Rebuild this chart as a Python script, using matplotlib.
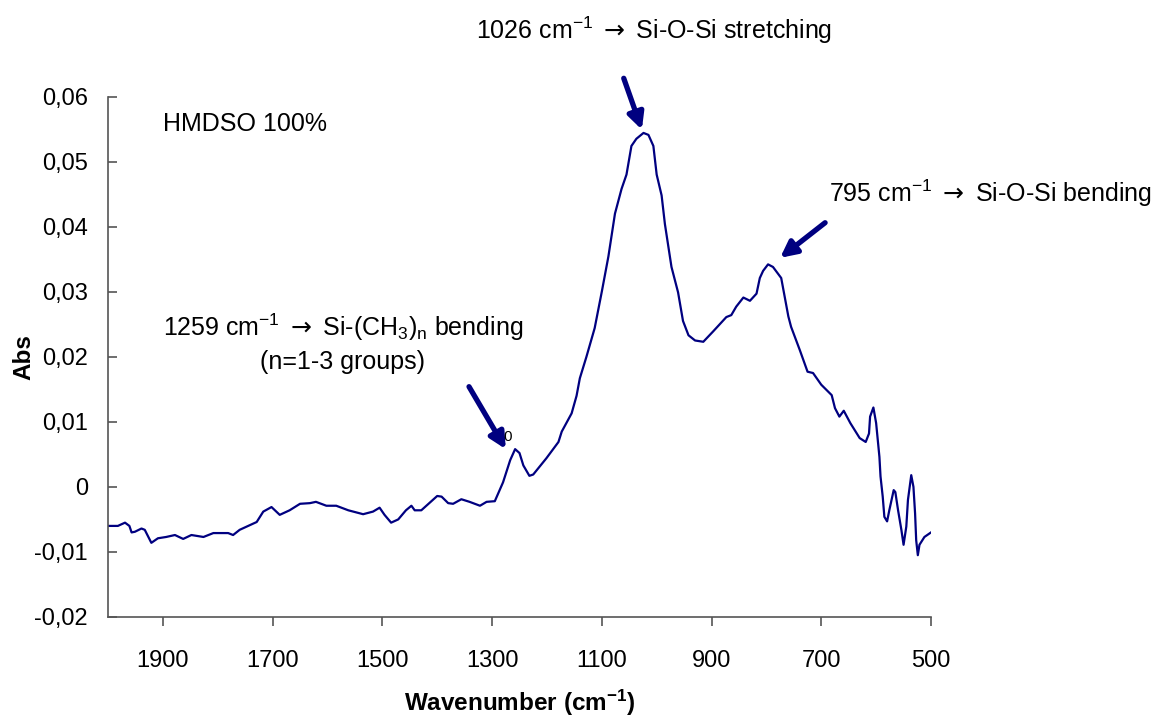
import numpy as np
import matplotlib
matplotlib.use("Agg")
import matplotlib.pyplot as plt

# FTIR spectrum
wavenumber = [2000, 1982, 1969, 1961, 1957, 1951, 1939, 1933, 1921, 1909, 1894, 1878,
              1863, 1848, 1826, 1808, 1781, 1772, 1760, 1729, 1717, 1702, 1687, 1669,
              1650, 1632, 1621, 1602, 1584, 1562, 1535, 1517, 1505, 1496, 1484, 1471,
              1457, 1447, 1441, 1429, 1400, 1392, 1380, 1371, 1356, 1341, 1322, 1310,
              1295, 1280, 1267, 1258, 1250, 1243, 1232, 1225, 1201, 1179, 1173, 1155,
              1146, 1140, 1128, 1113, 1100, 1088, 1076, 1064, 1055, 1046, 1037, 1024,
              1015, 1006, 1000, 991, 985, 973, 961, 952, 942, 930, 915, 897,
              873, 864, 855, 842, 830, 818, 812, 806, 797, 788, 773, 767,
              760, 755, 739, 725, 715, 700, 681, 675, 667, 659, 647, 630,
              619, 613, 611, 605, 600, 594, 592, 588, 585, 580, 576, 568,
              565, 560, 554, 550, 545, 542, 536, 532, 529, 527, 524, 521,
              512, 500]
absorbance = [-0.0060, -0.0060, -0.0055, -0.0060, -0.0070, -0.0069, -0.0064, -0.0066, -0.0086, -0.0079, -0.0077, -0.0074,
              -0.0080, -0.0074, -0.0077, -0.0071, -0.0071, -0.0074, -0.0066, -0.0054, -0.0038, -0.0031, -0.0043, -0.0036,
              -0.0026, -0.0025, -0.0023, -0.0029, -0.0029, -0.0036, -0.0042, -0.0038, -0.0032, -0.0043, -0.0055, -0.0050,
              -0.0036, -0.0029, -0.0036, -0.0036, -0.0014, -0.0015, -0.0025, -0.0026, -0.0019, -0.0023, -0.0029, -0.0023,
              -0.0022, 0.0007, 0.0041, 0.0058, 0.0052, 0.0033, 0.0017, 0.0019, 0.0044, 0.0069, 0.0085, 0.0113,
              0.0140, 0.0167, 0.0200, 0.0244, 0.0300, 0.0354, 0.0420, 0.0458, 0.0480, 0.0524, 0.0535, 0.0544,
              0.0541, 0.0524, 0.0480, 0.0448, 0.0404, 0.0338, 0.0299, 0.0255, 0.0233, 0.0225, 0.0223, 0.0239,
              0.0261, 0.0264, 0.0277, 0.0291, 0.0286, 0.0297, 0.0321, 0.0332, 0.0342, 0.0338, 0.0321, 0.0294,
              0.0262, 0.0246, 0.0210, 0.0177, 0.0175, 0.0157, 0.0141, 0.0121, 0.0108, 0.0117, 0.0098, 0.0075,
              0.0069, 0.0082, 0.0108, 0.0122, 0.0098, 0.0046, 0.0016, -0.0015, -0.0046, -0.0053, -0.0036, -0.0005,
              -0.0008, -0.0036, -0.0066, -0.0089, -0.0061, -0.0020, 0.0018, 0.0000, -0.0041, -0.0082, -0.0105, -0.0089,
              -0.0077, -0.0070]

x_ticks = [1900, 1700, 1500, 1300, 1100, 900, 700, 500]
y_ticks = [-0.02, -0.01, 0, 0.01, 0.02, 0.03, 0.04, 0.05, 0.06]
y_labels = ["-0,02", "-0,01", "0", "0,01", "0,02", "0,03", "0,04", "0,05", "0,06"]

# (text, arrow start, arrow tip) in data coordinates
peaks = [
    ("1259", (1342, 0.0154), (1275, 0.0058)),
    ("1026", (1060, 0.0628), (1027, 0.0549)),
    ("795", (693, 0.0406), (775, 0.0352)),
]

plt.rcParams["font.family"] = ["Liberation Sans", "DejaVu Sans"]
plt.rcParams["mathtext.fontset"] = "custom"
plt.rcParams["mathtext.rm"] = "Liberation Sans"
plt.rcParams["mathtext.it"] = "Liberation Sans"
plt.rcParams["mathtext.bf"] = "Liberation Sans:bold"
plt.rcParams["mathtext.sf"] = "DejaVu Sans"
plt.rcParams["mathtext.default"] = "regular"

navy = "#000080"
W, H = 1165, 720
fig = plt.figure(figsize=(W / 100, H / 100), dpi=100)
ax = fig.add_axes([108 / W, 1 - 617 / H, (931 - 108) / W, (617 - 96.5) / H])

ax.plot(wavenumber, absorbance, color=navy, lw=1.6)
ax.set_xlim(2000, 500)
ax.set_ylim(-0.02, 0.06)
ax.set_xticks(x_ticks)
ax.set_yticks(y_ticks)
ax.set_yticklabels(y_labels)

for s in ["top", "right"]:
    ax.spines[s].set_visible(False)
for s in ["left", "bottom"]:
    ax.spines[s].set_color("#555555")
    ax.spines[s].set_linewidth(1.2)
ax.tick_params(axis="x", direction="out", length=6.5, width=1.2, color="#555555",
               labelsize=17, pad=17)
ax.tick_params(axis="y", direction="in", length=6.5, width=1.2, color="#555555",
               labelsize=17, pad=14.5)

ax.set_xlabel(r"Wavenumber (cm$^{\mathbf{-1}}$)", fontsize=17.5, fontweight="bold", va="center")
ax.xaxis.set_label_coords(0.5, -(703 - 617) / (617 - 96.5))
ax.set_ylabel("Abs", fontsize=17.5, fontweight="bold", va="center")
ax.yaxis.set_label_coords(-(108 - 24) / (931 - 108), 0.5)

for _, start, tip in peaks:
    ax.annotate("", xy=tip, xytext=start,
                arrowprops=dict(arrowstyle="-|>", color=navy, lw=3.8, mutation_scale=24,
                                shrinkA=0, shrinkB=0))

fs = 18
arr = r"$\mathsf{\rightarrow}$"
fig.text(654 / W, 1 - 30 / H, r"1026 cm$^{-1}$ " + arr + " Si-O-Si stretching", fontsize=fs,
         ha="center", va="center")
fig.text(990 / W, 1 - 193 / H, r"795 cm$^{-1}$ " + arr + " Si-O-Si bending", fontsize=fs,
         ha="center", va="center")
fig.text(343 / W, 1 - 327 / H, r"1259 cm$^{-1}$ " + arr + r" Si-(CH$_3$)$_n$ bending", fontsize=fs,
         ha="center", va="center")
fig.text(342 / W, 1 - 362 / H, "(n=1-3 groups)", fontsize=fs, ha="center", va="center")
fig.text(163 / W, 1 - 124 / H, "HMDSO 100%", fontsize=fs, ha="left", va="center")
ax.text(1271, 0.0077, "0", fontsize=11, ha="center", va="center")

fig.savefig("out.png", dpi=100)
